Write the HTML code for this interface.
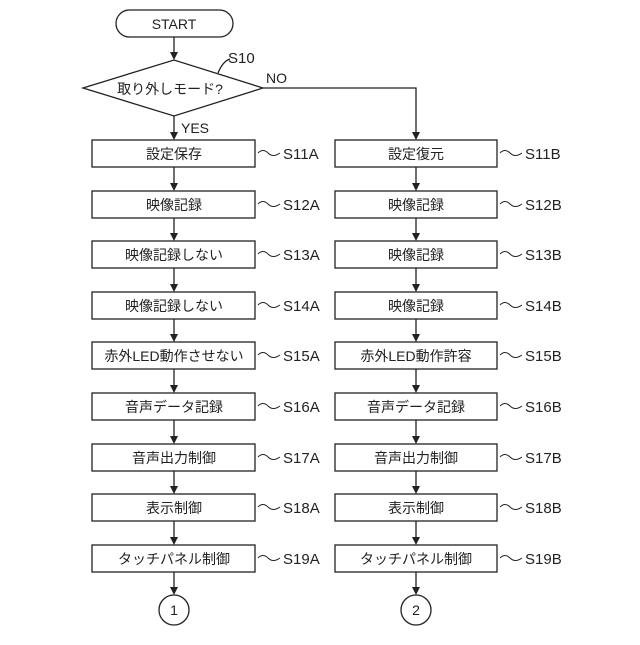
<!DOCTYPE html>
<html><head><meta charset="utf-8"><style>body{margin:0;background:#fff}</style></head><body>
<svg width="640" height="640" viewBox="0 0 640 640" xmlns="http://www.w3.org/2000/svg" font-family="'Liberation Sans','Noto Sans CJK JP',sans-serif">
<g stroke="#222" stroke-width="1.3" fill="none">
<rect x="116" y="10" width="117" height="27" rx="13.5"/>
<polygon points="83,88 174,60 263,88 174,116"/>
<path d="M218,73 q5,-12 12,-14"/>
<polyline points="263,88 416,88 416,132"/>
<line x1="174" y1="37" x2="174" y2="52"/>
<line x1="174" y1="116" x2="174" y2="132"/>
<!-- left boxes -->
<rect x="92" y="140" width="163" height="27"/><rect x="92" y="191" width="163" height="27"/><rect x="92" y="241" width="163" height="27"/><rect x="92" y="292" width="163" height="27"/><rect x="92" y="342" width="163" height="27"/><rect x="92" y="393" width="163" height="27"/><rect x="92" y="444" width="163" height="27"/><rect x="92" y="494" width="163" height="27"/><rect x="92" y="545" width="163" height="27"/>
<!-- right boxes -->
<rect x="335" y="140" width="162" height="27"/><rect x="335" y="191" width="162" height="27"/><rect x="335" y="241" width="162" height="27"/><rect x="335" y="292" width="162" height="27"/><rect x="335" y="342" width="162" height="27"/><rect x="335" y="393" width="162" height="27"/><rect x="335" y="444" width="162" height="27"/><rect x="335" y="494" width="162" height="27"/><rect x="335" y="545" width="162" height="27"/>
<!-- connectors -->
<path d="M174,167V183M174,218V233M174,268V284M174,319V334M174,369V385M174,420V436M174,471V486M174,521V537M174,572V587"/>
<path d="M416,167V183M416,218V233M416,268V284M416,319V334M416,369V385M416,420V436M416,471V486M416,521V537M416,572V587"/>
<circle cx="174" cy="610" r="15"/><circle cx="416" cy="610" r="15"/>
<!-- squiggles -->
<g stroke-width="1">
<path d="M258,153 q5,-5 10,0 t12,0"/><path d="M258,204 q5,-5 10,0 t12,0"/><path d="M258,254 q5,-5 10,0 t12,0"/><path d="M258,305 q5,-5 10,0 t12,0"/><path d="M258,355 q5,-5 10,0 t12,0"/><path d="M258,406 q5,-5 10,0 t12,0"/><path d="M258,457 q5,-5 10,0 t12,0"/><path d="M258,507 q5,-5 10,0 t12,0"/><path d="M258,558 q5,-5 10,0 t12,0"/>
<path d="M500,153 q5,-5 10,0 t12,0"/><path d="M500,204 q5,-5 10,0 t12,0"/><path d="M500,254 q5,-5 10,0 t12,0"/><path d="M500,305 q5,-5 10,0 t12,0"/><path d="M500,355 q5,-5 10,0 t12,0"/><path d="M500,406 q5,-5 10,0 t12,0"/><path d="M500,457 q5,-5 10,0 t12,0"/><path d="M500,507 q5,-5 10,0 t12,0"/><path d="M500,558 q5,-5 10,0 t12,0"/>
</g>
</g>
<g fill="#222">
<path d="M170,52h8l-4,8z"/><path d="M170,132h8l-4,8z"/><path d="M412,132h8l-4,8z"/>
<path d="M170,183h8l-4,8zM170,233h8l-4,8zM170,284h8l-4,8zM170,334h8l-4,8zM170,385h8l-4,8zM170,436h8l-4,8zM170,486h8l-4,8zM170,537h8l-4,8zM170,587h8l-4,8z"/>
<path d="M412,183h8l-4,8zM412,233h8l-4,8zM412,284h8l-4,8zM412,334h8l-4,8zM412,385h8l-4,8zM412,436h8l-4,8zM412,486h8l-4,8zM412,537h8l-4,8zM412,587h8l-4,8z"/>
</g>
<g font-size="14" fill="#222">
<text x="174" y="29" text-anchor="middle">START</text>
<text x="170" y="94" text-anchor="middle">取り外しモード?</text>
<text x="228" y="63" font-size="15">S10</text>
<text x="266" y="83">NO</text>
<text x="181" y="133">YES</text>
<g text-anchor="middle">
<text x="174" y="159">設定保存</text><text x="174" y="210">映像記録</text><text x="174" y="260">映像記録しない</text><text x="174" y="311">映像記録しない</text><text x="174" y="361">赤外LED動作させない</text><text x="174" y="412">音声データ記録</text><text x="174" y="463">音声出力制御</text><text x="174" y="513">表示制御</text><text x="174" y="564">タッチパネル制御</text>
<text x="416" y="159">設定復元</text><text x="416" y="210">映像記録</text><text x="416" y="260">映像記録</text><text x="416" y="311">映像記録</text><text x="416" y="361">赤外LED動作許容</text><text x="416" y="412">音声データ記録</text><text x="416" y="463">音声出力制御</text><text x="416" y="513">表示制御</text><text x="416" y="564">タッチパネル制御</text>
<text x="174" y="615">1</text><text x="416" y="615">2</text>
</g>
<g font-size="15">
<text x="283" y="159">S11A</text><text x="283" y="210">S12A</text><text x="283" y="260">S13A</text><text x="283" y="311">S14A</text><text x="283" y="361">S15A</text><text x="283" y="412">S16A</text><text x="283" y="463">S17A</text><text x="283" y="513">S18A</text><text x="283" y="564">S19A</text>
<text x="525" y="159">S11B</text><text x="525" y="210">S12B</text><text x="525" y="260">S13B</text><text x="525" y="311">S14B</text><text x="525" y="361">S15B</text><text x="525" y="412">S16B</text><text x="525" y="463">S17B</text><text x="525" y="513">S18B</text><text x="525" y="564">S19B</text>
</g>
</g>
</svg>
</body></html>
